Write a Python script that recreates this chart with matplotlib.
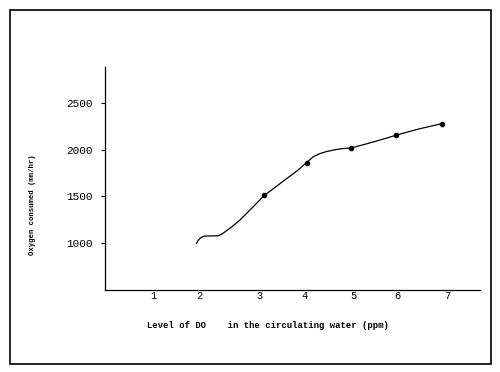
import matplotlib.pyplot as plt
from matplotlib.patches import Rectangle

# curve (x in the drawn ppm units)
curve_x = [1.88, 1.91, 1.95, 2.00, 2.05, 2.20, 2.32, 2.42, 2.60, 2.77, 3.04, 3.27,
           3.50, 3.73, 3.95, 4.14, 4.27, 4.40, 4.55, 4.72, 4.89, 5.05, 5.28,
           5.51, 5.74, 5.97, 6.22, 6.47, 6.70, 6.92]
curve_y = [1000, 1030, 1053, 1070, 1078, 1080, 1080, 1106, 1175, 1248, 1389, 1511,
           1600, 1691, 1775, 1862, 1921, 1955, 1979, 1998, 2011, 2017, 2048,
           2081, 2116, 2152, 2188, 2223, 2250, 2277]

# measured points (dots)
pts_x = [3.27, 4.14, 5.05, 5.97, 6.92]
pts_y = [1511, 1862, 2017, 2152, 2277]

xtick_pos = [1.0, 1.945, 3.178, 4.10, 5.11, 6.01, 7.02]
xtick_lab = ['1', '2', '3', '4', '5', '6', '7']
ytick_pos = [1000, 1500, 2000, 2500]
ytick_lab = ['1000', '1500', '2000', '2500']

mono = 'Liberation Mono'

fig = plt.figure(figsize=(5, 3.72), dpi=100)
ax = fig.add_axes([0.21, 0.2204, 0.75, 0.5995])

ax.plot(curve_x, curve_y, color='black', linewidth=0.9)
ax.plot(pts_x, pts_y, 'o', color='black', markersize=3)

ax.set_xlim(0, 7.7)
ax.set_ylim(503, 2880)

ax.spines['top'].set_visible(False)
ax.spines['right'].set_visible(False)
ax.spines['left'].set_linewidth(0.9)
ax.spines['bottom'].set_linewidth(0.9)

ax.set_xticks(xtick_pos)
ax.set_xticklabels(xtick_lab, fontfamily=mono, fontsize=7.5)
ax.tick_params(axis='x', length=0, pad=1)
ax.set_yticks(ytick_pos)
ax.set_yticklabels(ytick_lab, fontfamily=mono, fontsize=8)
ax.tick_params(axis='y', length=3, width=0.8, pad=6)

fig.text(0.536, 1 - 326 / 372, 'Level of DO    in the circulating water (ppm)',
         ha='center', va='center', fontfamily=mono, fontsize=6.4, fontweight='bold')
fig.text(0.064, 1 - 205 / 372, 'Oxygen consumed (mm/hr)', rotation=90,
         ha='center', va='center', fontfamily=mono, fontsize=5.2, fontweight='bold')

# outer frame of the scanned page
fig.patches.append(Rectangle((0.02, 0.0215), 0.962, 0.9516, transform=fig.transFigure,
                             fill=False, edgecolor='black', linewidth=1.2))

fig.savefig('out.png', dpi=100)
